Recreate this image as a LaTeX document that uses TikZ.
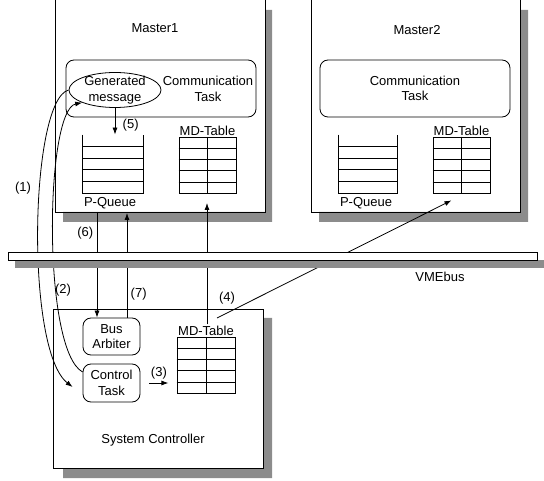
\documentclass[tikz,border=0pt]{standalone}
\usepackage{fontspec}
\setmainfont{Liberation Sans}
\usetikzlibrary{arrows.meta,positioning,shapes.geometric,calc}

\begin{document}
\begin{tikzpicture}[x=1pt,y=-1pt,line width=0.8pt,
    every node/.style={font=\fontsize{13}{15.5}\selectfont},
    shadow/.style={fill=black!45,draw=none},
    taskbox/.style={rectangle, draw, rounded corners=8pt, inner sep=0pt, align=center},
    tblbox/.style={rectangle, inner sep=0pt, minimum width=57pt, minimum height=56pt},
    arr/.style={-{Latex[length=7pt,width=5pt]}}]
\useasboundingbox (0,0) rectangle (544,481);

% Master1
\fill[shadow] (265,10) rectangle (272,222) (63,212) rectangle (272,222);
\draw (55,0) -- (55,212) -- (265,212) -- (265,0);
\node (m1title) at (155,28) {Master1};
\node[taskbox, minimum width=190pt, minimum height=57pt] (ctA) at (161,88.5) {};
\node[align=center] (ctAtxt) at (208,89) {Communication\\Task};
\node[ellipse, draw, minimum width=92pt, minimum height=35pt, inner sep=0pt] (gen) at (115,90) {};
\node[align=center] (gentxt) at (gen.center) {Generated\\message};
\node[tblbox, minimum width=60pt, minimum height=58pt] (pqA) at (113,164) {};
\node[tblbox, draw] (mdA) at (207.5,165) {};
\node[anchor=north west, inner sep=1pt, yshift=-3pt] (pqAlab) at (pqA.south west) {P-Queue};
\node[above=0pt of mdA, inner sep=1pt] (mdAlab) {MD-Table};

% Master2
\fill[shadow] (520,10) rectangle (528,222) (319,212) rectangle (528,222);
\draw (311,0) -- (311,212) -- (520,212) -- (520,0);
\node (m2title) at (417,30) {Master2};
\node[taskbox, minimum width=190pt, minimum height=57pt] (ctB) at (415,88.5) {Communication\\Task};
\node[tblbox, minimum width=58pt, minimum height=58pt] (pqB) at (368,164) {};
\node[tblbox, draw] (mdB) at (461.5,165) {};
\node[anchor=north west, inner sep=1pt, yshift=-3pt] (pqBlab) at (pqB.south west) {P-Queue};
\node[above=0pt of mdB, inner sep=1pt] (mdBlab) {MD-Table};

% System Controller
\fill[shadow] (263,318) rectangle (272,478) (63,468) rectangle (272,478);
\node[rectangle, draw, minimum width=210pt, minimum height=159pt, inner sep=0pt] (sc) at (158,388.5) {};
\node (sctitle) at (153,440) {System Controller};
\node[taskbox, minimum width=57pt, minimum height=37pt] (arb) at (111.5,336.5) {Bus\\Arbiter};
\node[taskbox, minimum width=57pt, minimum height=38pt] (ctl) at (111.5,383) {Control\\Task};
\node[tblbox, draw, minimum width=58pt] (mdC) at (206,365) {};
\node[above=0pt of mdC, inner sep=1pt] (mdClab) {MD-Table};

% queues and tables
\foreach \t in {pqA,pqB} {
    \draw (\t.north west) -- (\t.south west) -- (\t.south east) -- (\t.north east);
    \foreach \f in {0.2,0.4,0.6,0.8}
        \draw ($(\t.north west)!\f!(\t.south west)$) -- ($(\t.north east)!\f!(\t.south east)$);
}
\foreach \t in {mdA,mdB,mdC} {
    \draw (\t.north) -- (\t.south);
    \foreach \f in {0.2,0.4,0.6,0.8}
        \draw ($(\t.north west)!\f!(\t.south west)$) -- ($(\t.north east)!\f!(\t.south east)$);
}

% message flow
\coordinate (m1q) at (97,212);
\coordinate (m1p) at (127,213);
\coordinate (m1t) at (207,203);
\coordinate (sc4) at (217,318);

\draw[arr] (gen.west) .. controls (30,100) and (25,350) .. ([xshift=-10pt,yshift=-4pt]ctl.west);
\node (l1) at (23,188) {(1)};
\draw[arr] ([yshift=11pt]ctl.west) .. controls (42,350) and (45,110) .. (gen.south west);
\node (l2) at (63,290) {(2)};
\draw[arr] ([xshift=9pt]ctl.east) -- ([xshift=28pt]ctl.east) node[midway, above] {(3)};
\draw[arr] (sc4) -- ([xshift=-10pt,yshift=-7pt]mdB.south);
\node (l4) at (227,298) {(4)};
\draw[arr] (gen.south) -- (gen.south |- pqA.north) node[pos=0.65, right=4pt] {(5)};
\draw[arr] (m1q) -- (m1q |- arb.north) node[pos=0.2, left] {(6)};
\draw[arr] (m1p |- arb.north) -- (m1p) node[pos=0.22, right] {(7)};
\draw[arr] (m1t |- mdClab.north) -- (m1t);

% VMEbus
\fill[shadow] (15,260) rectangle (544,268);
\node[rectangle, draw, fill=white, minimum width=529pt, minimum height=8pt, inner sep=0pt] (bus) at (272.5,256) {};
\node (buslab) at (440,277) {VMEbus};
\end{tikzpicture}
\end{document}
